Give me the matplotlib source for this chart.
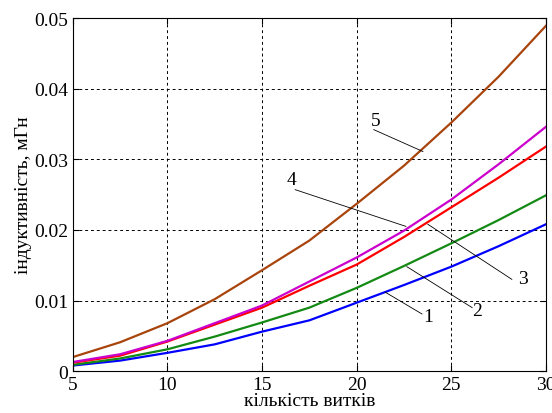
# -*- coding:utf-8 -*-
import numpy as np
import matplotlib
matplotlib.use('Agg')
import matplotlib.pyplot as plt

plt.rcParams['font.family'] = ['Liberation Serif', 'DejaVu Serif']

# кількість витків
turns = [5, 7.5, 10, 12.5, 15, 17.5, 20, 22.5, 25, 27.5, 30]

# індуктивність, мГн (криві 1..5)
L1 = [0.0008, 0.0015, 0.0026, 0.0038, 0.0056, 0.0072, 0.0097, 0.0122, 0.0148, 0.0177, 0.0208]
L2 = [0.0009, 0.0018, 0.0031, 0.0049, 0.0069, 0.0090, 0.0118, 0.0149, 0.0181, 0.0214, 0.0249]
L3 = [0.0012, 0.0022, 0.0042, 0.0066, 0.0090, 0.0121, 0.0151, 0.0190, 0.0232, 0.0274, 0.0318]
L4 = [0.0013, 0.0024, 0.0043, 0.0068, 0.0093, 0.0127, 0.0161, 0.0199, 0.0243, 0.0293, 0.0346]
L5 = [0.0020, 0.0041, 0.0068, 0.0102, 0.0143, 0.0185, 0.0237, 0.0291, 0.0352, 0.0417, 0.0489]

curves = [L1, L2, L3, L4, L5]
colors = ['#0000ff', '#138a13', '#ff0000', '#cc00cc', '#a8440c']

# підписи кривих: (текст, центр тексту, точка на кривій, початок виноски)
labels = ['1', '2', '3', '4', '5']
label_xy = [(23.76, 0.0078), (26.38, 0.0086), (28.78, 0.0131), (16.57, 0.0271), (21.0, 0.0355)]
arrow_xy = [(21.5, 0.0112), (22.65, 0.0148), (23.76, 0.0208), (22.6, 0.0205), (23.5, 0.0311)]
line_start = [(23.45, 0.0081), (26.1, 0.0090), (28.2, 0.0130), (16.75, 0.0257), (20.9, 0.0342)]

fig = plt.figure(figsize=(5.52, 4.14), dpi=100)
ax = fig.add_axes([0.132, 0.101, 0.857, 0.853])

for y, c in zip(curves, colors):
    ax.plot(turns, y, color=c, lw=1.6)

for t, txy, a, s in zip(labels, label_xy, arrow_xy, line_start):
    ax.plot([s[0], a[0]], [s[1], a[1]], color='black', lw=0.6)
    ax.text(txy[0], txy[1], t, fontsize=14, ha='center', va='center')

ax.set_xlim(5, 30)
ax.set_ylim(0, 0.05)
ax.set_xticks([5, 10, 15, 20, 25, 30])
ax.set_yticks([0, 0.01, 0.02, 0.03, 0.04, 0.05])
ax.set_yticklabels(['0', '0.01', '0.02', '0.03', '0.04', '0.05'])
ax.grid(True, color='black', linestyle=(0, (3, 3)), lw=0.7)
ax.tick_params(direction='in', labelsize=14, length=4, top=True, right=True)
for sp in ax.spines.values():
    sp.set_linewidth(0.8)

ax.set_xlabel('кількість витків', fontsize=14, labelpad=-1)
ax.set_ylabel('індуктивність, мГн', fontsize=14, labelpad=1)

fig.savefig('out.png', dpi=100)
